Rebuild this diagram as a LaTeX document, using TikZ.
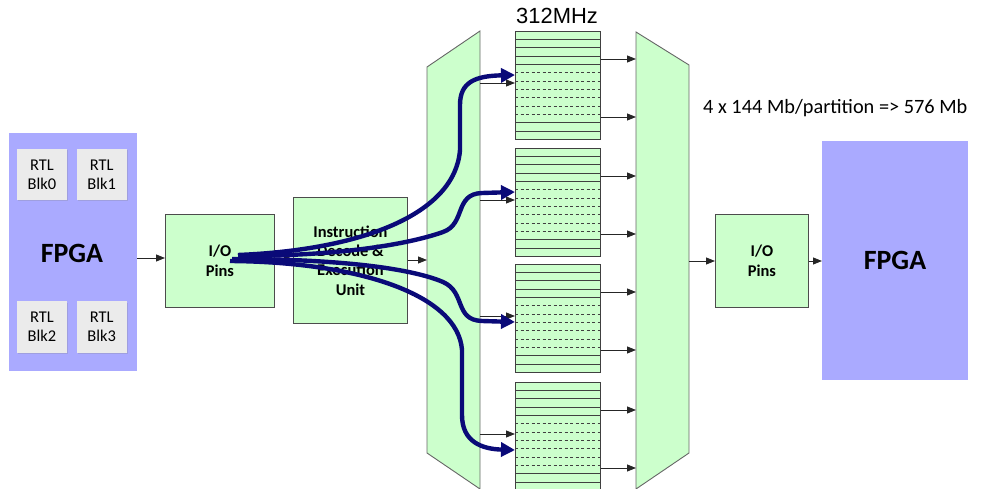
\documentclass[tikz,border=0pt]{standalone}
\usepackage{fontspec}
\setmainfont{Carlito}
\newfontfamily\arialf{Liberation Sans}
\usetikzlibrary{arrows.meta,shadows}
\definecolor{lgreen}{HTML}{CCFFCC}
\definecolor{fpgablue}{HTML}{AAAAFF}
\definecolor{rtlgray}{HTML}{EBEBEB}
\definecolor{navyc}{HTML}{0A0A78}
\begin{document}
\begin{tikzpicture}[x=1bp,y=-1bp,
  greenbox/.style={draw=black!70, fill=lgreen, line width=0.9bp, inner sep=0pt, align=center,
    font=\fontsize{16.5}{19.5}\selectfont\bfseries},
  fpgabox/.style={fill=fpgablue, inner sep=0pt},
  rtlbox/.style={fill=rtlgray, inner sep=0pt, minimum width=50bp, minimum height=51bp, align=center,
    font=\fontsize{16.5}{19.3}\selectfont,
    drop shadow={opacity=0.25, shadow xshift=1bp, shadow yshift=-1.5bp}},
  fpgatext/.style={font=\fontsize{28}{30}\selectfont\bfseries, inner sep=0pt, anchor=base},
  trapshape/.style={draw=black!60, fill=lgreen, line width=0.9bp},
  memblock/.style={draw=black!75, fill=lgreen, line width=0.9bp, inner sep=0pt,
    minimum width=85bp, minimum height=108.33bp, anchor=north west},
  rowsolid/.style={draw=black!75, line width=0.8bp},
  rowdash/.style={draw=black!75, line width=0.8bp, dash pattern=on 3bp off 2.5bp},
  thinarrow/.style={draw=black!85, line width=0.9bp, -{Triangle[length=9bp,width=7bp]}},
  bluearrow/.style={draw=navyc, line width=4.4bp, -{Triangle[length=14bp,width=14bp]}}
]
\useasboundingbox (0,0) rectangle (998,489);

% left FPGA
\node[fpgabox, minimum width=128bp, minimum height=238bp, anchor=north west] (fpga1) at (9,133) {};
\node[fpgatext] (fpga1t) at (72,263) {FPGA};
\node[rtlbox] (rtl0) at (42,174.5) {RTL\\Blk0};
\node[rtlbox] (rtl1) at (101.7,174.5) {RTL\\Blk1};
\node[rtlbox] (rtl2) at (42,327) {RTL\\Blk2};
\node[rtlbox] (rtl3) at (101.7,327) {RTL\\Blk3};

% I/O and instruction boxes
\node[greenbox, minimum width=109bp, minimum height=93bp, anchor=north west] (io1) at (165,214) {I/O\\Pins};
\node[greenbox, minimum width=114bp, minimum height=126bp, anchor=north west] (instr) at (293,197)
  {Instruction\\Decode \&\\Execution\\Unit};

% trapezoids
\draw[trapshape] (427,67) -- (480,31) -- (480,489) -- (427,453) -- cycle;
\draw[trapshape] (636,32) -- (689,65) -- (689,453) -- (636,489) -- cycle;
\coordinate (trapLin) at (427,260);
\coordinate (trapRout) at (689,261);

% memory blocks
\foreach \k/\tp in {1/31,2/148,3/264,4/382} {
  \node[memblock] (m\k) at (515,\tp) {};
  \foreach \r in {1,2,3,4,11,12} {
    \pgfmathsetmacro\yy{\tp+\r*108.33/13}
    \draw[rowsolid] (515,\yy) -- (600,\yy);
  }
  \foreach \r in {5,...,10} {
    \pgfmathsetmacro\yy{\tp+\r*108.33/13}
    \draw[rowdash] (515,\yy) -- (600,\yy);
  }
  \pgfmathsetmacro\ya{\tp+52}
  \pgfmathsetmacro\yb{\tp+28}
  \pgfmathsetmacro\yc{\tp+86}
  \coordinate (L\k) at (480,\ya);
  \coordinate (Ra\k) at (636,\yb);
  \coordinate (Rb\k) at (636,\yc);
  \draw[thinarrow] (L\k) -- (L\k -| m\k.west);
  \draw[thinarrow] (Ra\k -| m\k.east) -- (Ra\k);
  \draw[thinarrow] (Rb\k -| m\k.east) -- (Rb\k);
}

% right side
\node[greenbox, minimum width=93bp, minimum height=93bp, anchor=north west] (io2) at (715,214) {I/O\\Pins};
\node[fpgabox, minimum width=146bp, minimum height=239bp, anchor=north west] (fpga2) at (822,141) {};
\node[fpgatext] (fpga2t) at (895,270) {FPGA};

% thin connectors
\draw[thinarrow] (fpga1.east |- 0,258) -- (io1.west |- 0,258);
\draw[thinarrow] (io1.east |- 0,259) -- (instr.west |- 0,259);
\draw[thinarrow] (instr.east |- trapLin) -- (trapLin);
\draw[thinarrow] (trapRout) -- (io2.west |- trapRout);
\draw[thinarrow] (io2.east |- 0,261) -- (fpga2.west |- 0,261);

% texts
\node[font=\arialf\fontsize{22}{24}\selectfont, anchor=base, inner sep=0pt] (mhz) at (557,24) {312MHz};
\node[font=\fontsize{20.4}{24}\selectfont, anchor=base west, inner sep=0pt] (cap) at (703,114) {4 x 144 Mb/partition => 576 Mb};

% blue flow curves
\coordinate (S1) at (238,255);
\coordinate (S2) at (238,256);
\coordinate (S3) at (232,259);
\coordinate (S4) at (230,261);
\coordinate (B1) at (515,75);
\coordinate (B2) at (515,192);
\coordinate (B3) at (515,322);
\coordinate (B4) at (515,450);
\draw[bluearrow] (S1) .. controls (360,250) and (455,215) .. (460,150) -- (460,105)
  .. controls (460,82) and (475,76) .. (B1);
\draw[bluearrow] (S2) .. controls (350,256) and (415,242) .. (443,232)
  .. controls (466,224) and (454,194) .. (482,193) -- (B2);
\draw[bluearrow] (S3) .. controls (350,259) and (415,270) .. (443,282)
  .. controls (466,292) and (454,320) .. (482,321) -- (B3);
\draw[bluearrow] (S4) .. controls (360,262) and (458,295) .. (462,350) -- (462,415)
  .. controls (462,442) and (482,449) .. (B4);
\end{tikzpicture}
\end{document}
